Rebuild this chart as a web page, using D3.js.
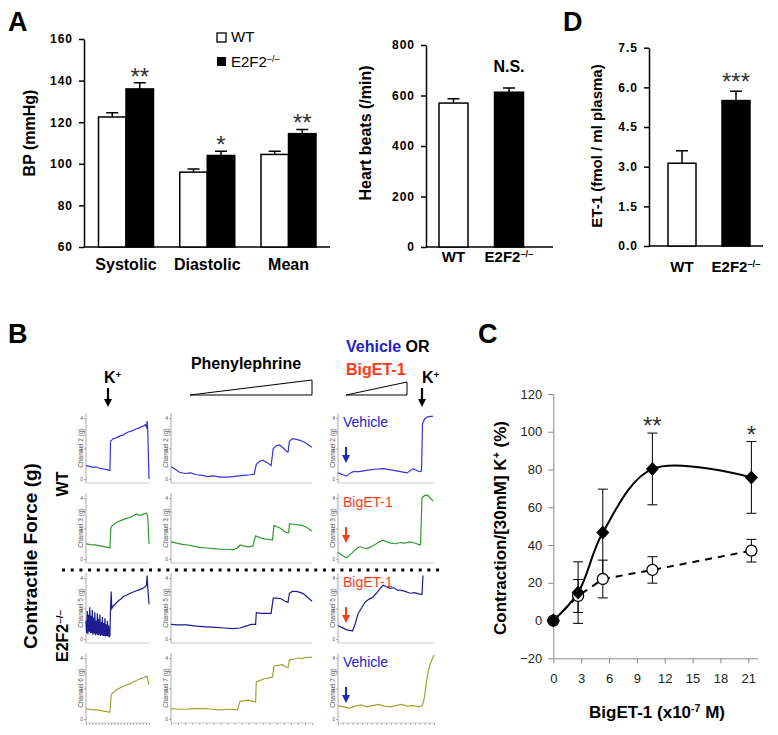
<!DOCTYPE html>
<html>
<head>
<meta charset="utf-8">
<script src="https://cdn.jsdelivr.net/npm/d3@7"></script>
<style>
  body { margin: 0; background: #fff; }
  svg { display: block; font-family: Arial, "Liberation Sans", sans-serif; }
</style>
</head>
<body>
<script>
// ---- panel A : blood pressure ----
const bpCats = ["Systolic", "Diastolic", "Mean"];
const bpWT = [122.5, 96, 104.5];
const bpWTErr = [2, 1.5, 1.5];
const bpKO = [136, 104, 114.5];
const bpKOErr = [3, 2, 2];
const bpSig = ["**", "*", "**"];
const bpTicks = [60, 80, 100, 120, 140, 160];

// ---- panel A : heart rate ----
const groups = ["WT", "E2F2"];
const hrValues = [570, 613];
const hrErr = [17, 17];
const hrTicks = [0, 200, 400, 600, 800];

// ---- panel D : plasma ET-1 ----
const et1Values = [3.13, 5.5];
const et1Err = [0.47, 0.35];
const et1Ticks = [0, 1.5, 3, 4.5, 6, 7.5];

// ---- panel C : BigET-1 dose response ----
const doses = [0, 2.67, 5.33, 10.67, 21.33];
const contrKO = [0, 14.8, 46.6, 80.3, 75.8];
const contrKOErr = [0, 16.3, 23, 19, 19];
const contrWT = [0, 13, 22, 26.8, 37];
const contrWTErr = [0, 8.7, 10, 7, 6];
const contrSig = ["", "", "", "**", "*"];
const doseTicks = [0, 3, 6, 9, 12, 15, 18, 21];
const contrTicks = [-20, 0, 20, 40, 60, 80, 100, 120];

// ---- panel B : force traces [time %, force] ----
const r1K = [[0,.22],[4,.21],[8,.20],[12,.19],[16,.20],[20,.18],[25,.17],[30,.16],[35,.15],[38,.14],[39,.62],[43,.66],[47,.67],[51,.69],[55,.71],[59,.72],[63,.75],[67,.77],[71,.78],[75,.80],[79,.82],[83,.83],[87,.85],[91,.87],[94,.89],[96,.85],[97,.95],[98,.80],[100,0]];
const r1PE = [[0,.20],[3,.16],[6,.11],[10,.09],[14,.10],[18,.07],[22,.06],[26,.04],[30,.05],[35,.03],[40,.03],[44,.04],[48,.05],[52,.06],[56,.07],[59,.08],[60.5,.24],[63,.29],[65,.31],[68,.27],[70,.24],[71,.22],[72.5,.50],[75,.55],[77,.56],[80,.50],[82,.45],[83,.44],[84,.62],[86,.66],[89,.65],[92,.63],[95,.60],[98,.55],[100,.52]];
const r1ET = [[0,.10],[5,.07],[9,.05],[13,.10],[16,.12],[22,.12],[30,.14],[38,.16],[47,.17],[55,.15],[65,.12],[72,.10],[78,.17],[85,.12],[87,.13],[88,.90],[90,.98],[93,1.02],[99,1.03]];
const r2K = [[0,.25],[5,.24],[10,.23],[15,.23],[20,.22],[25,.21],[30,.20],[35,.19],[38,.18],[39.5,.52],[43,.56],[47,.59],[51,.61],[55,.63],[60,.65],[65,.67],[70,.68],[75,.71],[80,.74],[84,.72],[88,.72],[92,.74],[96,.75],[98,.70],[100,.25]];
const r2PE = [[0,.28],[4,.26],[8,.24],[12,.23],[16,.21],[20,.19],[25,.18],[30,.17],[35,.16],[40,.16],[44,.15],[47,.18],[49,.23],[52,.21],[55,.20],[58,.21],[60,.38],[63,.35],[66,.33],[70,.32],[72,.31],[73,.55],[76,.52],[78,.50],[80,.46],[82,.43],[83.5,.43],[84,.58],[87,.57],[90,.56],[93,.55],[96,.52],[100,.46]];
const r2ET = [[0,.11],[4,.06],[9,.02],[12,.06],[16,.12],[20,.18],[23,.20],[27,.18],[30,.17],[33,.19],[37,.22],[40,.25],[44,.29],[47,.31],[51,.28],[55,.26],[60,.25],[65,.27],[70,.26],[74,.28],[78,.27],[82,.25],[85,.23],[86,.24],[87.5,1.0],[90,1.04],[93,1.05],[96,1.0],[98,.97],[99,.95]];
const r3K = [[0,.30],[1,.10],[2,.46],[3,.08],[4,.40],[5,.12],[6,.52],[7,.09],[8,.38],[9,.10],[10,.48],[11,.07],[12,.35],[13,.09],[14,.44],[15,.06],[16,.30],[17,.08],[18,.42],[19,.06],[20,.33],[21,.07],[22,.40],[23,.05],[24,.28],[25,.06],[26,.36],[27,.05],[28,.26],[29,.05],[30,.34],[31,.04],[32,.24],[33,.05],[34,.30],[35,.04],[36,.22],[37,.04],[38,.05],[39,.52],[40,.78],[41,.50],[44,.55],[48,.59],[52,.63],[56,.66],[60,.70],[65,.72],[70,.75],[75,.77],[80,.79],[85,.81],[90,.83],[94,.86],[96,.88],[97,1.04],[98,.85],[100,.57]];
const r3PE = [[0,.24],[5,.23],[11,.23],[18,.21],[25,.20],[32,.19],[38,.18],[44,.17],[49,.18],[53,.21],[57,.24],[60,.24],[60.5,.43],[64,.42],[68,.42],[71,.42],[72.5,.67],[75,.67],[78,.66],[81,.62],[83,.60],[84,.75],[86,.78],[89,.78],[92,.76],[94,.74],[97,.68],[100,.62]];
const r3ET = [[0,.22],[4,.19],[9,.15],[12,.14],[15,.13],[18,.25],[21,.42],[25,.52],[28,.60],[32,.65],[36,.68],[40,.75],[44,.83],[47,.88],[50,.86],[54,.83],[58,.84],[62,.80],[65,.80],[70,.78],[75,.75],[80,.76],[84,.74],[87.5,.73],[88.5,1.04]];
const r4K = [[0,.17],[5,.16],[10,.15],[17,.15],[22,.14],[28,.13],[33,.12],[38,.11],[40,.40],[44,.44],[48,.48],[54,.51],[60,.54],[65,.56],[70,.58],[75,.61],[80,.63],[86,.66],[90,.67],[94,.69],[97,.70],[100,.56]];
const r4PE = [[0,.17],[6,.16],[11,.16],[17,.17],[23,.17],[29,.16],[35,.15],[41,.16],[47,.15],[49,.29],[52,.30],[55,.31],[58,.29],[60,.28],[60.5,.61],[63,.63],[66,.66],[69,.67],[72,.69],[73,.87],[76,.88],[79,.89],[81,.86],[83,.84],[84,.97],[87,.98],[90,1.0],[93,.99],[96,1.01],[100,1.01]];
const r4ET = [[0,.22],[6,.20],[12,.18],[18,.21],[24,.23],[30,.20],[36,.22],[42,.24],[48,.21],[54,.20],[60,.22],[66,.24],[72,.21],[78,.22],[84,.20],[88,.22],[90,.35],[92,.60],[94,.78],[96,.90],[98,.98],[100,1.05]];
const channelNames = [["Channel 2 (g)", "Channel 2 (g)", "Channel 2 (g)"],
                      ["Channel 3 (g)", "Channel 3 (g)", "Channel 3 (g)"],
                      ["Channel 5 (g)", "Channel 5 (g)", "Channel 5 (g)"],
                      ["Channel 6 (g)", "Channel 7 (g)", "Channel 7 (g)"]];
const treatLabels = ["Vehicle", "BigET-1", "BigET-1", "Vehicle"];

const svg = d3.select("body").append("svg").attr("width", 778).attr("height", 735);
const BLUE = "#2222cc", RED = "#ff3a1a";

function super_(sel, base, sup) {
  sel.text(base);
  sel.append("tspan").attr("baseline-shift", "super").attr("font-size", "0.62em").text(sup);
}

function panelLetter(t, x, y) {
  svg.append("text").attr("x", x).attr("y", y).attr("font-size", 27).attr("font-weight", "bold").text(t);
}

function yTitle(t, x, y, size) {
  return svg.append("text").attr("transform", `translate(${x},${y}) rotate(-90)`)
    .attr("text-anchor", "middle").attr("dy", "0.35em")
    .attr("font-size", size).attr("font-weight", "bold").text(t);
}

function styleBoldAxis(g) {
  g.selectAll("path, line").attr("stroke", "#000").attr("stroke-width", 1.5);
  g.selectAll("text").attr("font-size", 12).attr("font-weight", "bold")
    .attr("font-family", "Arial, 'Liberation Sans', sans-serif").attr("letter-spacing", 1).attr("fill", "#000");
}

function errBars(g, data, cx, cy, cap) {
  g.selectAll(null).data(data).join("path")
    .attr("fill", "none").attr("stroke", "#000").attr("stroke-width", 1.5)
    .attr("d", d => `M${cx(d)},${cy(d.v)}V${cy(d.v + d.e)}M${cx(d) - cap},${cy(d.v + d.e)}H${cx(d) + cap}`);
}

// ================= Panel A (BP) =================
panelLetter("A", 8, 31);
const bpX = d3.scalePoint().domain(bpCats).range([126, 288.5]);
const sub = d3.scaleBand().domain(groups).range([-27.5, 27.5]);
const bpY = d3.scaleLinear().domain([60, 160]).range([247, 39]);
const gBP = svg.append("g");
gBP.append("g").attr("transform", "translate(84,0)")
  .call(d3.axisLeft(bpY).tickValues(bpTicks).tickSize(5).tickSizeOuter(0).tickPadding(6)).call(styleBoldAxis);
gBP.append("line").attr("x1", 84).attr("x2", 330).attr("y1", bpY(60)).attr("y2", bpY(60))
  .attr("stroke", "#000").attr("stroke-width", 1.5);
const bpData = [];
bpCats.forEach((c, i) => {
  bpData.push({ c, grp: "WT", v: bpWT[i], e: bpWTErr[i] });
  bpData.push({ c, grp: "E2F2", v: bpKO[i], e: bpKOErr[i] });
});
const bpCx = d => bpX(d.c) + sub(d.grp) + sub.bandwidth() / 2;
errBars(gBP, bpData, bpCx, bpY, 6);
gBP.selectAll("rect.bar").data(bpData).join("rect")
  .attr("x", d => bpX(d.c) + sub(d.grp)).attr("width", sub.bandwidth())
  .attr("y", d => bpY(d.v)).attr("height", d => bpY(60) - bpY(d.v))
  .attr("fill", d => d.grp === "WT" ? "#fff" : "#000").attr("stroke", "#000").attr("stroke-width", 1.5);
gBP.selectAll("text.sig").data(bpData.filter(d => d.grp === "E2F2")).join("text")
  .attr("x", bpCx).attr("y", (d, i) => bpY(d.v + d.e) + 2)
  .attr("text-anchor", "middle").attr("font-size", 24).attr("fill", "#333").text((d, i) => bpSig[i]);
gBP.selectAll("text.cat").data(bpCats).join("text")
  .attr("x", d => bpX(d)).attr("y", 270).attr("text-anchor", "middle")
  .attr("font-size", 16).attr("font-weight", "bold").text(d => d);
yTitle("BP (mmHg)", 29, 133, 16);
// legend
gBP.append("rect").attr("x", 217).attr("y", 33).attr("width", 9).attr("height", 9).attr("fill", "#fff").attr("stroke", "#000").attr("stroke-width", 1.3);
gBP.append("rect").attr("x", 217).attr("y", 57).attr("width", 9).attr("height", 9).attr("fill", "#000");
gBP.append("text").attr("x", 231).attr("y", 42).attr("font-size", 15).text("WT");
gBP.append("text").attr("x", 231).attr("y", 67).attr("font-size", 15).call(super_, "E2F2", "–/–");

// ================= Panel A (heart rate) =================
const hrX = d3.scalePoint().domain(groups).range([453.5, 509]);
const hrY = d3.scaleLinear().domain([0, 800]).range([247, 45]);
const gHR = svg.append("g");
gHR.append("g").attr("transform", "translate(426,0)")
  .call(d3.axisLeft(hrY).tickValues(hrTicks).tickSize(5).tickSizeOuter(0).tickPadding(6)).call(styleBoldAxis);
gHR.append("line").attr("x1", 426).attr("x2", 553).attr("y1", hrY(0)).attr("y2", hrY(0))
  .attr("stroke", "#000").attr("stroke-width", 1.5);
const hrData = groups.map((g, i) => ({ grp: g, v: hrValues[i], e: hrErr[i] }));
errBars(gHR, hrData, d => hrX(d.grp), hrY, 6);
gHR.selectAll("rect").data(hrData).join("rect")
  .attr("x", d => hrX(d.grp) - 14.5).attr("width", 29)
  .attr("y", d => hrY(d.v)).attr("height", d => hrY(0) - hrY(d.v))
  .attr("fill", d => d.grp === "WT" ? "#fff" : "#000").attr("stroke", "#000").attr("stroke-width", 1.5);
gHR.append("text").attr("x", hrX("E2F2")).attr("y", hrY(hrValues[1] + hrErr[1]) - 16)
  .attr("text-anchor", "middle").attr("font-size", 16).attr("font-weight", "bold").text("N.S.");
gHR.append("text").attr("x", hrX("WT")).attr("y", 262).attr("text-anchor", "middle").attr("font-size", 15).attr("font-weight", "bold").text("WT");
gHR.append("text").attr("x", hrX("E2F2")).attr("y", 262).attr("text-anchor", "middle").attr("font-size", 15).attr("font-weight", "bold").call(super_, "E2F2", "–/–");
yTitle("Heart beats (/min)", 365, 133, 16);

// ================= Panel D =================
panelLetter("D", 563, 31);
const etX = d3.scalePoint().domain(groups).range([682, 736]);
const etY = d3.scaleLinear().domain([0, 7.5]).range([246, 47.7]);
const gD = svg.append("g");
gD.append("g").attr("transform", "translate(649,0)")
  .call(d3.axisLeft(etY).tickValues(et1Ticks).tickFormat(d3.format(".1f")).tickSize(5).tickSizeOuter(0).tickPadding(6)).call(styleBoldAxis);
gD.append("line").attr("x1", 649).attr("x2", 763).attr("y1", etY(0)).attr("y2", etY(0))
  .attr("stroke", "#000").attr("stroke-width", 1.5);
const etData = groups.map((g, i) => ({ grp: g, v: et1Values[i], e: et1Err[i] }));
errBars(gD, etData, d => etX(d.grp), etY, 6);
gD.selectAll("rect").data(etData).join("rect")
  .attr("x", d => etX(d.grp) - 14).attr("width", 28)
  .attr("y", d => etY(d.v)).attr("height", d => etY(0) - etY(d.v))
  .attr("fill", d => d.grp === "WT" ? "#fff" : "#000").attr("stroke", "#000").attr("stroke-width", 1.5);
gD.append("text").attr("x", etX("E2F2")).attr("y", etY(et1Values[1] + et1Err[1]) - 1)
  .attr("text-anchor", "middle").attr("font-size", 24).attr("fill", "#333").text("***");
gD.append("text").attr("x", etX("WT")).attr("y", 272).attr("text-anchor", "middle").attr("font-size", 15).attr("font-weight", "bold").text("WT");
gD.append("text").attr("x", etX("E2F2")).attr("y", 272).attr("text-anchor", "middle").attr("font-size", 15).attr("font-weight", "bold").call(super_, "E2F2", "–/–");
yTitle("ET-1 (fmol / ml plasma)", 597, 146, 15);

// ================= Panel B =================
panelLetter("B", 8, 343);
const traces = [[r1K, r1PE, r1ET], [r2K, r2PE, r2ET], [r3K, r3PE, r3ET], [r4K, r4PE, r4ET]];
const traceCols = [[86, 149], [171, 312], [338, 434]];
const rowBottoms = [483, 563, 643, 723];
const traceColors = ["#3434d8", "#2f9a2f", "#1d1d8f", "#a3a334"];
const gB = svg.append("g");

function arrow(g, x, y1, y2, color, w) {
  g.append("line").attr("x1", x).attr("x2", x).attr("y1", y1).attr("y2", y2 - 6)
    .attr("stroke", color).attr("stroke-width", w);
  g.append("path").attr("d", `M${x - 4},${y2 - 8}L${x + 4},${y2 - 8}L${x},${y2}Z`).attr("fill", color);
}

traces.forEach((row, ri) => {
  const b = rowBottoms[ri];
  row.forEach((tr, ci) => {
    const [c0, c1] = traceCols[ci];
    const x = d3.scaleLinear().domain([0, 100]).range([c0, c1]);
    const y = d3.scaleLinear().domain([0, 1]).range([b - 4, b - 65]);
    const g = gB.append("g");
    g.append("line").attr("x1", c0).attr("x2", c1).attr("y1", b).attr("y2", b).attr("stroke", "#ccc");
    const ax = g.append("g").attr("transform", `translate(${c0},0)`)
      .call(d3.axisLeft(y).tickValues([0, 0.5, 1]).tickFormat((d, i) => ["0", "2", "4"][i]).tickSize(2).tickPadding(1).tickSizeOuter(0));
    ax.select(".domain").attr("stroke", "#aaa").attr("d", `M0,${b}V${b - 70}`);
    ax.selectAll("line").attr("stroke", "#aaa");
    ax.selectAll("text").attr("font-size", 5).attr("fill", "#555");
    g.append("text").attr("transform", `translate(${c0 - 3},${b - 35}) rotate(-90)`)
      .attr("text-anchor", "middle").attr("font-size", 6.5).attr("fill", "#555").text(channelNames[ri][ci]);
    if (ri === 3) {
      g.append("g").attr("transform", `translate(0,${b})`)
        .call(d3.axisBottom(x).ticks(20).tickFormat("").tickSize(2).tickSizeOuter(0))
        .call(s => { s.selectAll("line").attr("stroke", "#aaa"); s.select(".domain").remove(); });
    }
    g.append("path").datum(tr)
      .attr("d", d3.line().x(d => x(d[0])).y(d => y(d[1])))
      .attr("fill", "none").attr("stroke", traceColors[ri]).attr("stroke-width", 1.2);
  });
  const lab = treatLabels[ri];
  const col = lab === "Vehicle" ? BLUE : RED;
  gB.append("text").attr("x", 343).attr("y", b - 56).attr("font-size", 14).attr("fill", col).text(lab);
  arrow(gB, 346, b - 36, b - 20, col, 2);
});

// headers
gB.append("text").attr("x", 104).attr("y", 383).attr("font-size", 16).attr("font-weight", "bold").call(super_, "K", "+");
arrow(gB, 108, 388, 407, "#000", 2.2);
gB.append("text").attr("x", 422).attr("y", 383).attr("font-size", 16).attr("font-weight", "bold").call(super_, "K", "+");
arrow(gB, 422, 388, 407, "#000", 2.2);
gB.append("text").attr("x", 246).attr("y", 369).attr("text-anchor", "middle").attr("font-size", 16).attr("font-weight", "bold").text("Phenylephrine");
gB.append("path").attr("d", "M190,395L312,395L312,380Z").attr("fill", "#fff").attr("stroke", "#000");
const vOr = gB.append("text").attr("x", 346).attr("y", 352).attr("font-size", 16).attr("font-weight", "bold");
vOr.append("tspan").attr("fill", BLUE).text("Vehicle");
vOr.append("tspan").attr("fill", "#000").text(" OR");
gB.append("text").attr("x", 346).attr("y", 375).attr("font-size", 16).attr("font-weight", "bold").attr("fill", RED).text("BigET-1");
gB.append("path").attr("d", "M346,395L407,395L407,382Z").attr("fill", "#fff").attr("stroke", "#000");
gB.append("line").attr("x1", 62).attr("x2", 442).attr("y1", 570).attr("y2", 570)
  .attr("stroke", "#000").attr("stroke-width", 3).attr("stroke-dasharray", "3,5.7");
yTitle("Contractile Force (g)", 30, 556, 19);
yTitle("WT", 62, 484, 16);
yTitle("", 62, 636, 16).call(super_, "E2F2", "–/–");

// ================= Panel C =================
panelLetter("C", 478, 343);
const cX = d3.scaleLinear().domain([0, 22]).range([553.3, 757.6]);
const cY = d3.scaleLinear().domain([-20, 120]).range([658.3, 394]);
const gC = svg.append("g");
const greyAxis = s => {
  s.selectAll("path, line").attr("stroke", "#888");
  s.selectAll("text").attr("font-size", 13).attr("fill", "#222").attr("font-family", "Arial, 'Liberation Sans', sans-serif");
};
gC.append("g").attr("transform", `translate(${cX(0)},0)`)
  .call(d3.axisLeft(cY).tickValues(contrTicks).tickSize(5).tickSizeOuter(0).tickPadding(6)).call(greyAxis);
gC.append("g").attr("transform", `translate(0,${cY(-20)})`)
  .call(d3.axisBottom(cX).tickValues(doseTicks).tickSize(5).tickSizeOuter(0).tickPadding(10)).call(greyAxis);

const koPts = doses.map((x, i) => ({ x, v: contrKO[i], e: contrKOErr[i] }));
const wtPts = doses.map((x, i) => ({ x, v: contrWT[i], e: contrWTErr[i] }));
gC.append("path").datum(wtPts)
  .attr("d", d3.line().x(d => cX(d.x)).y(d => cY(d.v)))
  .attr("fill", "none").attr("stroke", "#000").attr("stroke-width", 2).attr("stroke-dasharray", "7,6");
gC.append("path").datum(koPts)
  .attr("d", d3.line().curve(d3.curveCatmullRom.alpha(0.5)).x(d => cX(d.x)).y(d => cY(d.v)))
  .attr("fill", "none").attr("stroke", "#000").attr("stroke-width", 2);
gC.selectAll("path.eb").data([...koPts, ...wtPts].filter(d => d.e > 0)).join("path")
  .attr("fill", "none").attr("stroke", "#000").attr("stroke-width", 1)
  .attr("d", d => `M${cX(d.x)},${cY(d.v - d.e)}V${cY(d.v + d.e)}M${cX(d.x) - 5},${cY(d.v + d.e)}H${cX(d.x) + 5}M${cX(d.x) - 5},${cY(d.v - d.e)}H${cX(d.x) + 5}`);
gC.selectAll("circle").data(wtPts).join("circle")
  .attr("cx", d => cX(d.x)).attr("cy", d => cY(d.v)).attr("r", 5.5)
  .attr("fill", "#fff").attr("stroke", "#000").attr("stroke-width", 1.3);
gC.selectAll("path.dia").data(koPts).join("path")
  .attr("transform", d => `translate(${cX(d.x)},${cY(d.v)})`)
  .attr("d", "M0,-7L6.5,0L0,7L-6.5,0Z").attr("fill", "#000");
gC.selectAll("text.sig").data(koPts.map((d, i) => ({ ...d, s: contrSig[i] })).filter(d => d.s)).join("text")
  .attr("x", d => cX(d.x)).attr("y", d => cY(d.v + d.e) + 1)
  .attr("text-anchor", "middle").attr("font-size", 24).attr("fill", "#333").text(d => d.s);
yTitle("", 500, 528, 17).call(s => {
  s.text("Contraction/[30mM] K");
  s.append("tspan").attr("baseline-shift", "super").attr("font-size", "0.62em").text("+");
  s.append("tspan").text(" (%)");
});
const xt = gC.append("text").attr("x", 657).attr("y", 718).attr("text-anchor", "middle").attr("font-size", 17).attr("font-weight", "bold");
xt.append("tspan").text("BigET-1 (x10");
xt.append("tspan").attr("baseline-shift", "super").attr("font-size", "0.62em").text("-7");
xt.append("tspan").text(" M)");
</script>
</body>
</html>
